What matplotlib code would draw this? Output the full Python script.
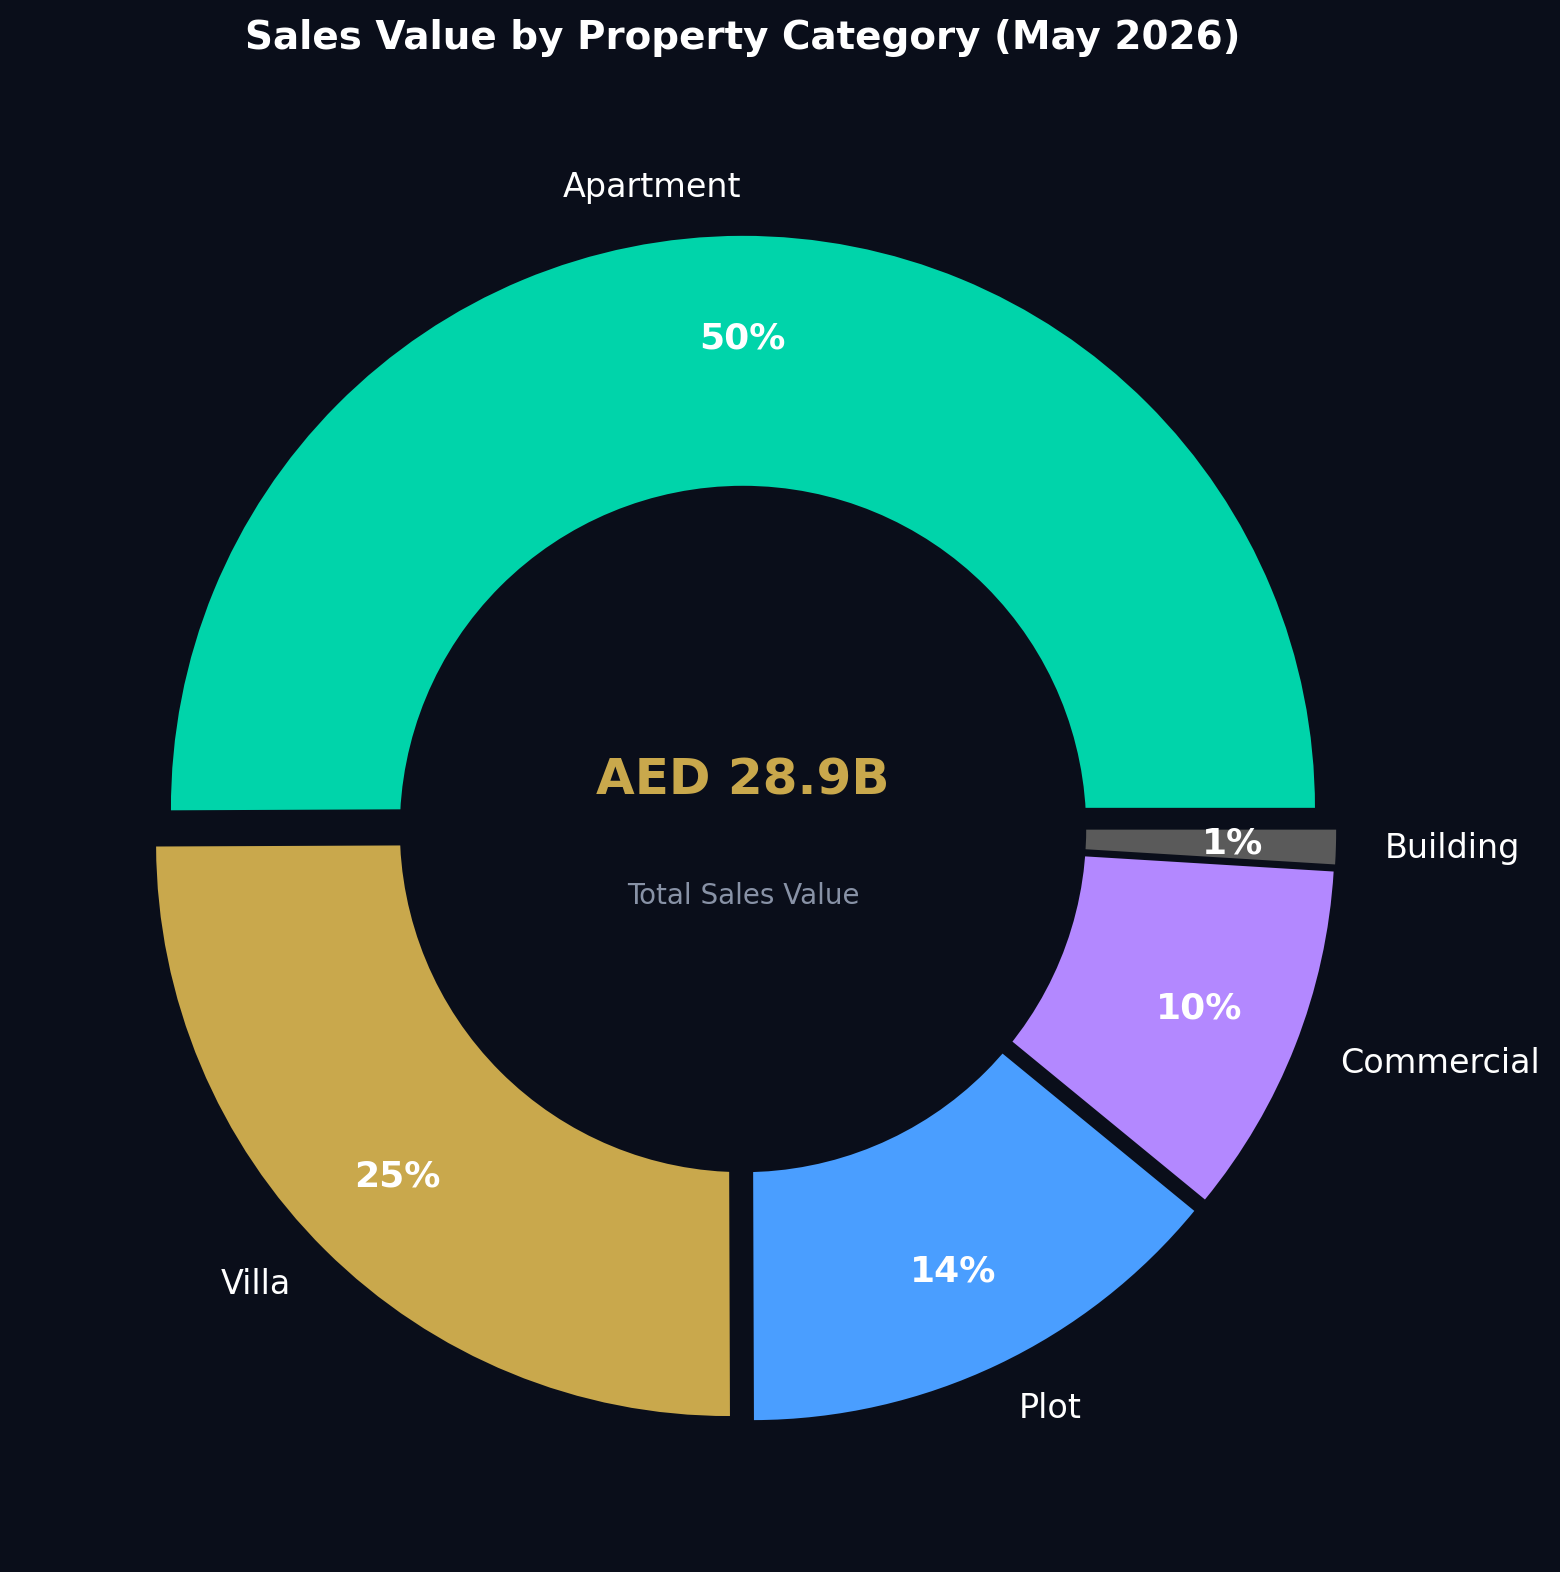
import matplotlib
matplotlib.use('Agg')
import matplotlib.pyplot as plt

# data (AED billions)
categories = ['Apartment', 'Villa', 'Plot', 'Commercial', 'Building']
sales_value = [14.47, 7.22, 4.05, 2.88, 0.28]
colors = ['#00D4AA', '#C9A84C', '#4A9EFF', '#B388FF', '#5A5A5A']
total_label = 'AED 28.9B'
sub_label = 'Total Sales Value'
title = 'Sales Value by Property Category (May 2026)'

bg = '#0A0E1A'

fig = plt.figure(figsize=(7.8, 7.86), dpi=200, facecolor=bg)
W, H = 1560, 1572
cx, cy, half = 743, 829, 715   # pie centre and half axes size, pixels
ax = fig.add_axes([(cx - half) / W, (H - cy - half) / H, 2 * half / W, 2 * half / H])
ax.set_facecolor(bg)

wedges, texts, autotexts = ax.pie(
    sales_value, labels=categories, colors=colors, startangle=0,
    explode=[0.037] * len(sales_value), autopct='%1.0f%%',
    pctdistance=0.82, labeldistance=1.085,
    wedgeprops=dict(edgecolor='none'),
    textprops=dict(color='white', fontsize=12))
for t in autotexts:
    t.set_fontsize(13)
    t.set_fontweight('bold')
    t.set_color('white')

# hole in the middle, centred on the un-exploded pie
ax.add_artist(plt.Circle((0, 0), 0.6, fc=bg, ec='none'))

ax.text(0, 0.084, total_label, ha='center', va='center', fontsize=18,
        fontweight='bold', color='#C9A84C')
ax.text(0, -0.117, sub_label, ha='center', va='center', fontsize=10,
        color='#8892A6')

ax.set_xlim(-1.25, 1.25)
ax.set_ylim(-1.25, 1.25)
ax.set_aspect('equal')
ax.axis('off')

fig.text(cx / W, 1 - 38 / H, title, ha='center', va='center', fontsize=14,
         fontweight='bold', color='white')

fig.savefig('out.png', dpi=200, facecolor=bg)
